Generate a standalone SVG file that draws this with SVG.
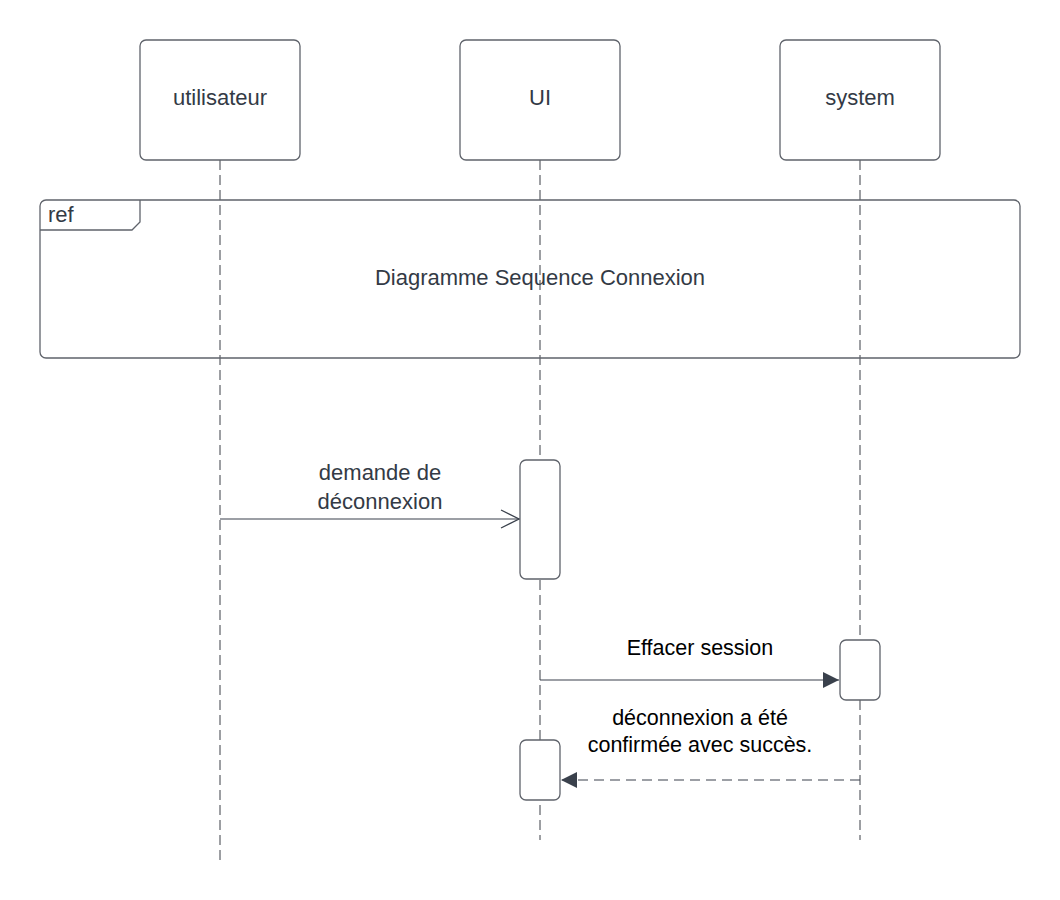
<svg xmlns="http://www.w3.org/2000/svg" width="1060" height="900" viewBox="0 0 1060 900">
<defs>
<style>
.box{fill:#ffffff;stroke:#5f636b;stroke-width:1.3}
.life{stroke:#3a3f47;stroke-width:1;stroke-dasharray:10 5;fill:none}
.msg{stroke:#3a414c;stroke-width:1.2;fill:none}
.t{font-family:"Liberation Sans",Arial,sans-serif;font-size:22px;fill:#333a45;text-anchor:middle}
.tb{font-family:"Liberation Sans",Arial,sans-serif;font-size:21.5px;fill:#000000;text-anchor:middle}
</style>
<marker id="open" viewBox="0 0 20 20" refX="19" refY="10" markerWidth="20" markerHeight="20" markerUnits="userSpaceOnUse" orient="auto">
<path d="M1,1 L19,10 L1,19" fill="none" stroke="#3a414c" stroke-width="1.2"/>
</marker>
<marker id="filled" viewBox="0 0 16 16" refX="16" refY="8" markerWidth="16" markerHeight="16" markerUnits="userSpaceOnUse" orient="auto">
<path d="M0,0 L16,8 L0,16 Z" fill="#3a414c"/>
</marker>
</defs>
<rect width="1060" height="900" fill="#ffffff"/>
<g id="lifelines">
<line class="life" x1="220" y1="160" x2="220" y2="862"/>
<line class="life" x1="540" y1="160" x2="540" y2="840"/>
<line class="life" x1="860" y1="160" x2="860" y2="840"/>
</g>
<g id="ref-frame">
<rect class="box" x="40" y="200" width="980" height="158" rx="6" style="fill:none"/>
<path class="box" d="M40,230 L132,230 L140,222 L140,200" style="fill:none"/>
<text class="t" x="48" y="222" style="text-anchor:start">ref</text>
<text class="t" x="540" y="285">Diagramme Sequence Connexion</text>
</g>
<g id="utilisateur">
<rect class="box" x="140" y="40" width="160" height="120" rx="6"/>
<text class="t" x="220" y="105">utilisateur</text>
</g>
<g id="UI">
<rect class="box" x="460" y="40" width="160" height="120" rx="6"/>
<text class="t" x="540" y="105">UI</text>
</g>
<g id="system">
<rect class="box" x="780" y="40" width="160" height="120" rx="6"/>
<text class="t" x="860" y="105">system</text>
</g>
<g id="activation-ui-1">
<rect class="box" x="520" y="460" width="40" height="119" rx="6"/>
</g>
<g id="activation-system">
<rect class="box" x="840" y="640" width="40" height="60" rx="6"/>
</g>
<g id="activation-ui-2">
<rect class="box" x="520" y="740" width="40" height="60" rx="6"/>
</g>
<g id="connectors">
<line class="msg" x1="220" y1="519" x2="519" y2="519" marker-end="url(#open)"/>
<line class="msg" x1="540" y1="680" x2="839" y2="680" marker-end="url(#filled)"/>
<line class="msg" x1="860" y1="780" x2="561" y2="780" stroke-dasharray="10 6" marker-end="url(#filled)"/>
</g>
<g id="labels">
<text class="t" x="380" y="480">demande de</text>
<text class="t" x="380" y="509">déconnexion</text>
<text class="tb" x="700" y="655">Effacer session</text>
<text class="tb" x="700" y="725">déconnexion a été</text>
<text class="tb" x="700" y="752">confirmée avec succès.</text>
</g>
</svg>
